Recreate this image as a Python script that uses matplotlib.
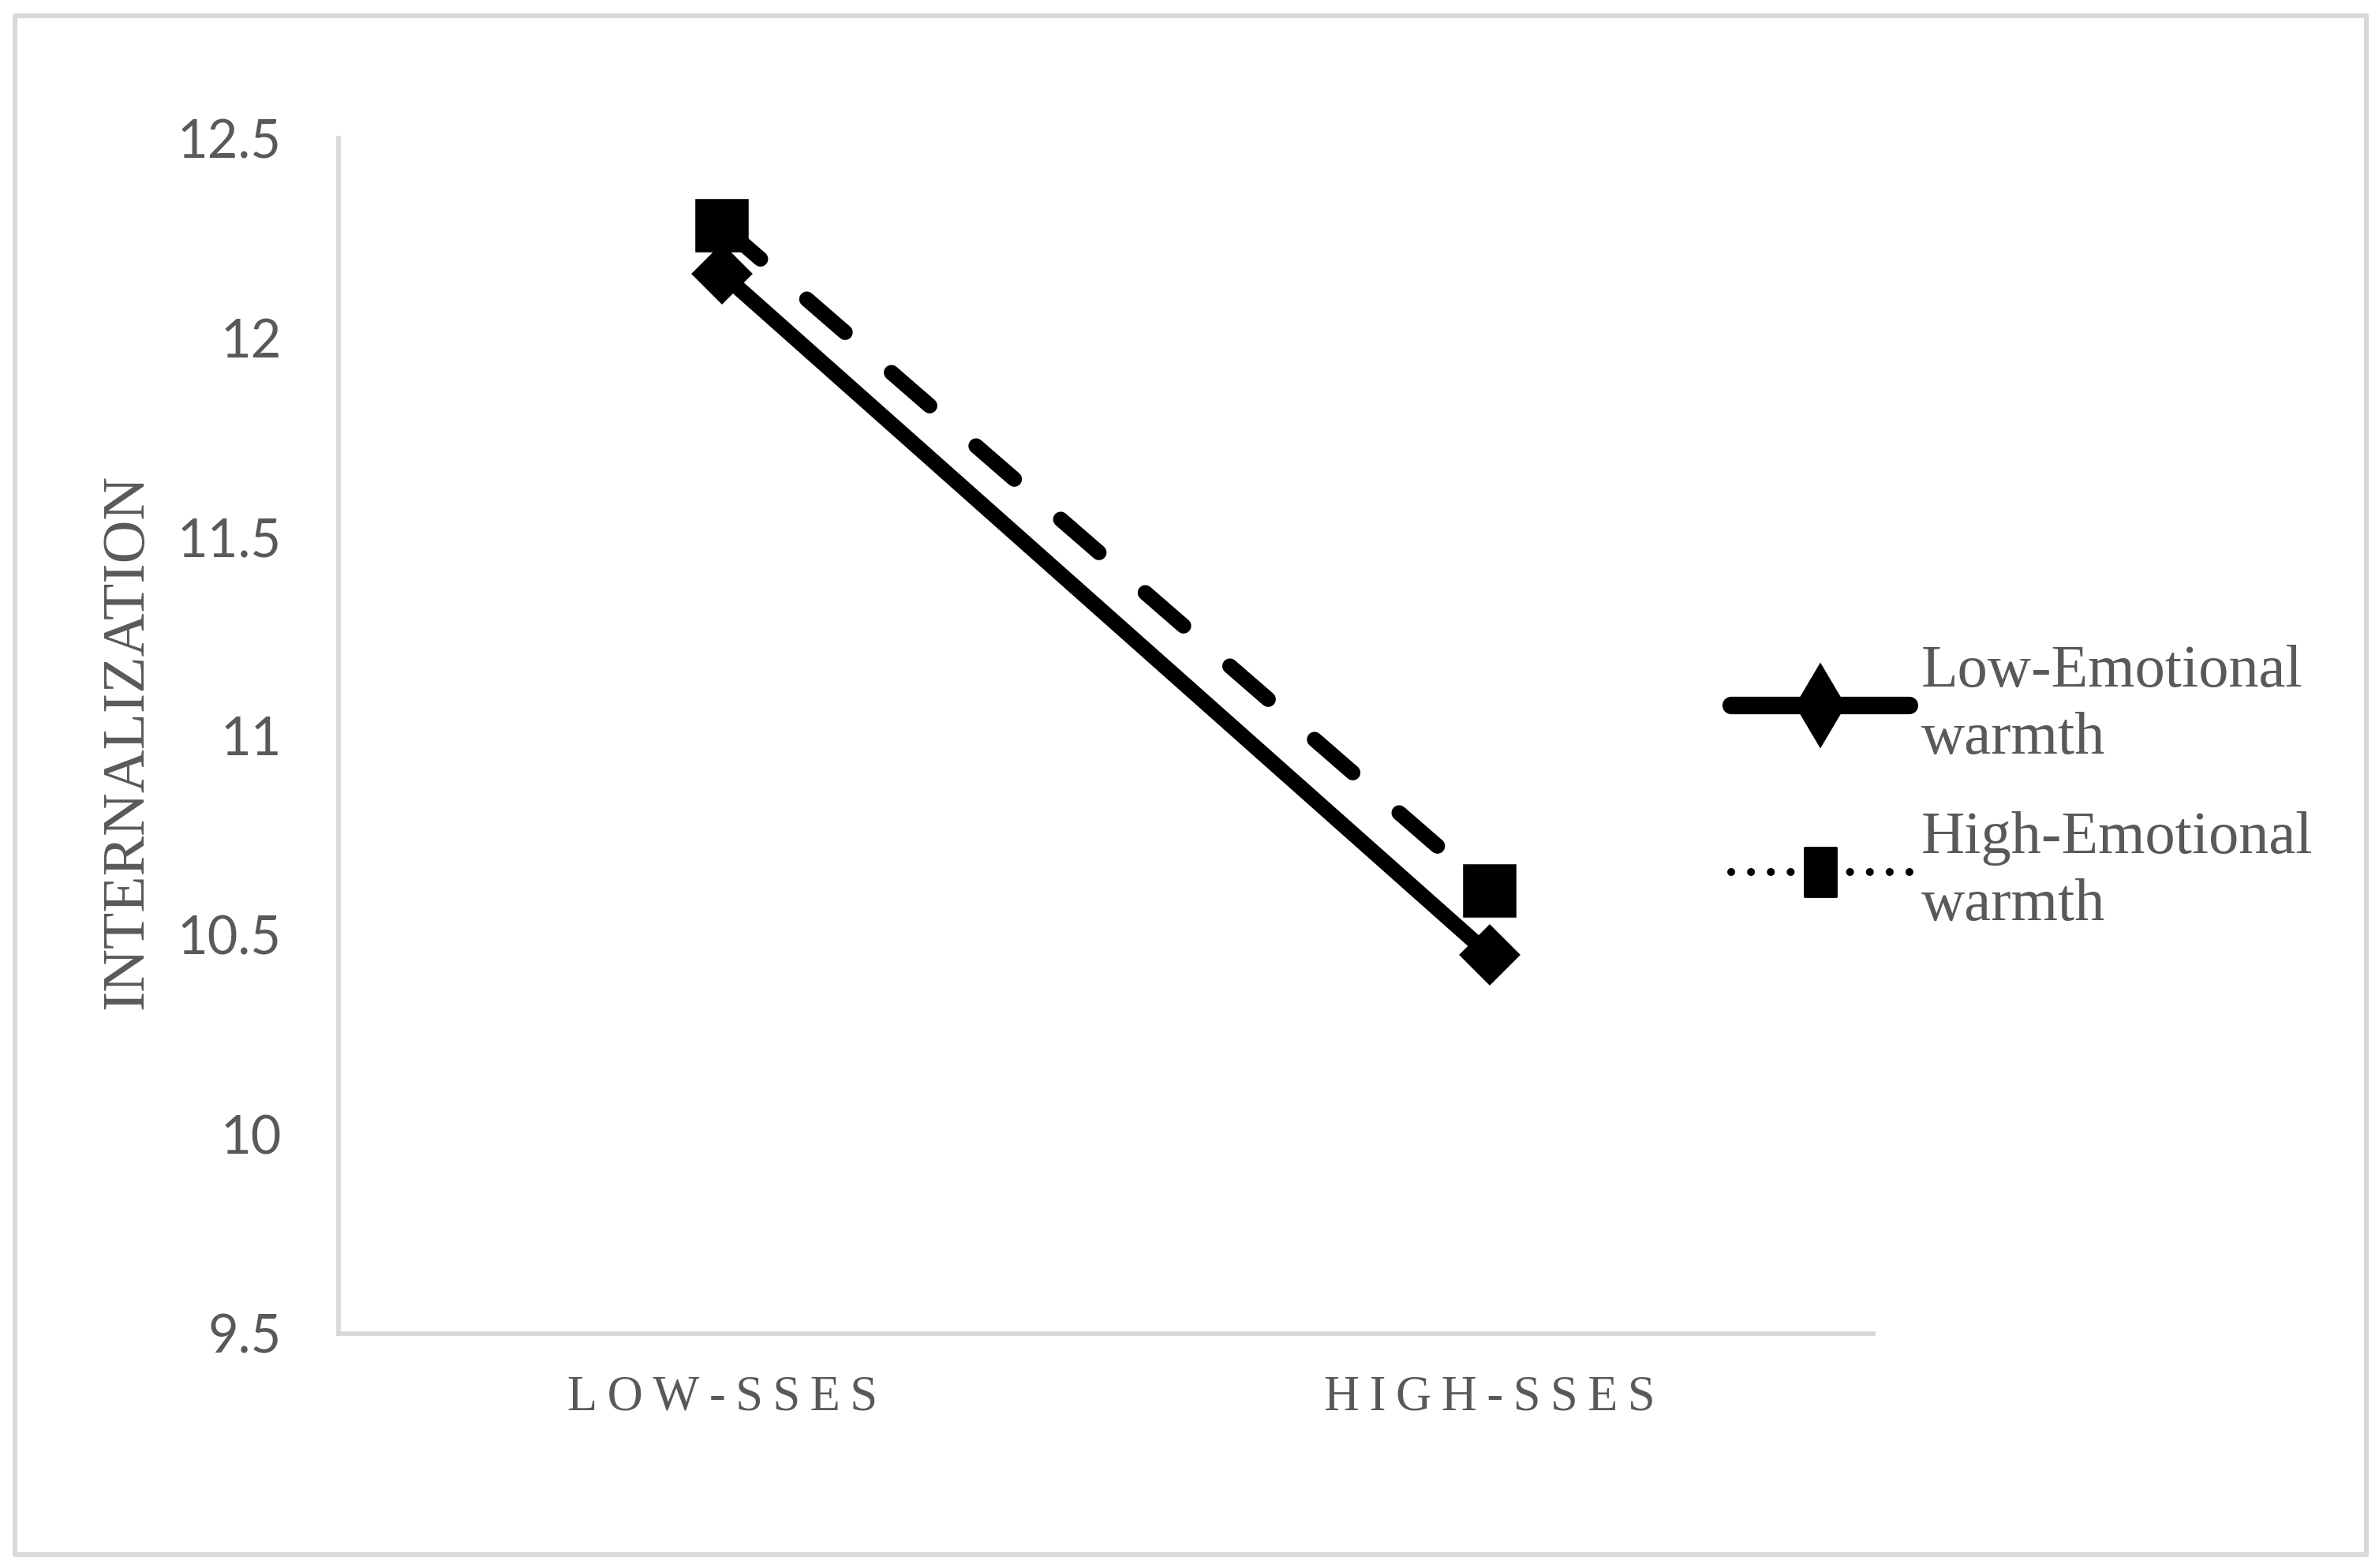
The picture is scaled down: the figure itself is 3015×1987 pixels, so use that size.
import matplotlib
matplotlib.use("Agg")
import matplotlib.pyplot as plt
from matplotlib.lines import Line2D
from matplotlib.patches import Rectangle
from matplotlib.path import Path

# ---- data ----
categories = ["LOW-SSES", "HIGH-SSES"]
low_warmth = [12.16, 10.45]
high_warmth = [12.28, 10.61]
series_labels = ["Low-Emotional\nwarmth", "High-Emotional\nwarmth"]
yticks = [9.5, 10, 10.5, 11, 11.5, 12, 12.5]
ytick_labels = ["9.5", "10", "10.5", "11", "11.5", "12", "12.5"]
y_title = "INTERNALIZATION"

TEXT = "#595959"
GRID = "#D9D9D9"

fig = plt.figure(figsize=(15.075, 9.935), dpi=200)
ax = fig.add_axes([0.1423, 0.1495, 0.6451, 0.7624])

x = list(range(len(categories)))
ax.plot(x, high_warmth, color="black", lw=7, linestyle=(0, (3.3, 4.0)),
        dash_capstyle="round", solid_capstyle="round",
        marker="s", markersize=22, markeredgewidth=2, zorder=3)
ax.plot(x, low_warmth, color="black", lw=7, solid_capstyle="round",
        marker="D", markersize=17, markeredgewidth=3, markeredgecolor="black",
        zorder=4)

ax.set_xlim(-0.5, len(categories) - 0.5)
ax.set_ylim(yticks[0], yticks[-1])
ax.set_yticks(yticks)
ax.set_yticklabels(ytick_labels, fontfamily="Lato", fontsize=24, color=TEXT)
ax.set_xticks(x)
ax.set_xticklabels(["\u2009".join(c) for c in categories],
                   fontfamily=["Liberation Serif", "DejaVu Serif"],
                   fontsize=22.5, color=TEXT)
ax.tick_params(axis="y", length=0, pad=26)
ax.tick_params(axis="x", length=0, pad=19)

for s in ["top", "right"]:
    ax.spines[s].set_visible(False)
for s in ["left", "bottom"]:
    ax.spines[s].set_color(GRID)
    ax.spines[s].set_linewidth(2.1)

fig.text(0.0537, 0.527, y_title, rotation=90, ha="center", va="center",
         fontfamily="Liberation Serif", fontsize=27.3, color=TEXT)

# legend handles
rect_marker = Path([(-0.32, -0.5), (0.32, -0.5), (0.32, 0.5), (-0.32, 0.5), (-0.32, -0.5)],
                   [Path.MOVETO, Path.LINETO, Path.LINETO, Path.LINETO, Path.CLOSEPOLY])
h_low = Line2D([], [], color="black", lw=8, solid_capstyle="round",
               marker="d", markersize=25, markeredgewidth=2)
h_high = Line2D([], [], color="black", lw=3.6, linestyle=(0, (0.01, 2.5)),
                dash_capstyle="round", marker=rect_marker, markersize=22,
                markeredgewidth=1)
leg = fig.legend([h_low, h_high], series_labels, loc="center left",
                 bbox_to_anchor=(0.705, 0.497), frameon=False,
                 prop={"family": "Liberation Serif", "size": 27.5},
                 handlelength=2.95, handletextpad=0.2, labelspacing=0.75,
                 numpoints=1)
for t in leg.get_texts():
    t.set_color(TEXT)
    t.set_linespacing(1.3)

fig.patches.append(Rectangle((0.0063, 0.0086), 0.9884, 0.9814,
                             transform=fig.transFigure, fill=False,
                             ec=GRID, lw=2.2, joinstyle="round"))

fig.savefig("out.png", dpi=200, facecolor="white")
